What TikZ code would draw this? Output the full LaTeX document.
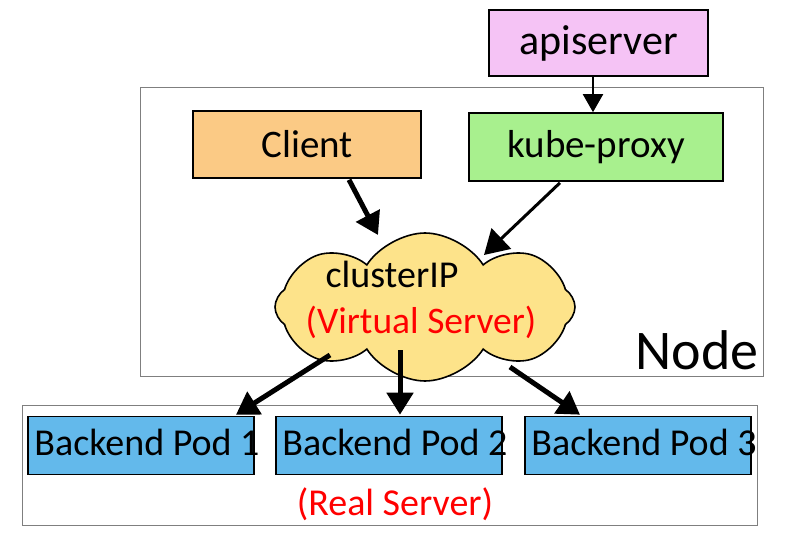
\documentclass[tikz,border=0pt]{standalone}
\usepackage{fontspec}
\setmainfont{Carlito}
\usetikzlibrary{shapes.symbols,arrows.meta,calc}
\definecolor{apipink}{HTML}{F5C3F5}
\definecolor{clientorange}{HTML}{FBCA85}
\definecolor{proxygreen}{HTML}{A8F08E}
\definecolor{cloudyellow}{HTML}{FDE38A}
\definecolor{podblue}{HTML}{63B9EB}
\definecolor{framegray}{HTML}{7F7F7F}
\definecolor{realred}{HTML}{FF0000}
\begin{document}
\begin{tikzpicture}[x=1pt,y=-1pt,
  txt/.style={font=\fontsize{39}{44}\selectfont},
  box/.style={draw=black,line width=1.6pt,inner sep=0pt,txt},
  frame/.style={draw=framegray,line width=1pt,inner sep=0pt},
  pod/.style={box,fill=podblue,minimum width=226pt,minimum height=58pt},
  podtext/.style={anchor=west,inner sep=0pt,font=\fontsize{38}{44}\selectfont},
  thickarrow/.style={line width=5pt,-{Triangle[length=22pt,width=26pt]}},
  midarrow/.style={line width=3pt,-{Triangle[length=24pt,width=28pt]}},
  thinarrow/.style={line width=2pt,-{Triangle[length=18pt,width=20pt]}},
]
\useasboundingbox (0,0) rectangle (790,548);
% frames
\node[frame,minimum width=623pt,minimum height=288pt] (nodeframe) at (451.5,232) {};
\node[frame,minimum width=735pt,minimum height=120pt] (podframe) at (389.5,465) {};
\node[inner sep=0pt,font=\fontsize{56}{60}\selectfont] (nodelabel) at (697,350) {Node};
% top boxes
\node[box,fill=apipink,minimum width=219pt,minimum height=66pt,font=\fontsize{42}{46}\selectfont] (api) at (598.5,43) {apiserver};
\node[box,fill=clientorange,minimum width=228pt,minimum height=67pt] (client) at (307,144.5) {Client};
\node[box,fill=proxygreen,minimum width=254pt,minimum height=68pt] (proxy) at (596,147) {kube-proxy};
% cloud
\node[cloud,draw=black,line width=1.6pt,fill=cloudyellow,cloud puffs=8,cloud puff arc=115,
      minimum width=300pt,minimum height=148pt,aspect=2.1] (cloud) at (425,307) {};
\node[inner sep=0pt,txt,font=\fontsize{38}{44}\selectfont] (cip) at (392,274) {clusterIP};
\node[inner sep=0pt,text=realred,font=\fontsize{37.5}{44}\selectfont] (vs) at (421,322) {(Virtual Server)};
% pods
\node[pod] (p1) at (141,445.5) {};
\node[pod] (p2) at (389,445.5) {};
\node[pod] (p3) at (638,445.5) {};
\node[podtext] (t1) at ($(p1.west)+(7,-3)$) {Backend Pod 1};
\node[podtext] (t2) at ($(p2.west)+(7,-3)$) {Backend Pod 2};
\node[podtext] (t3) at ($(p3.west)+(7,-3)$) {Backend Pod 3};
\node[inner sep=0pt,text=realred,font=\fontsize{38}{44}\selectfont] (real) at (395,504) {(Real Server)};
% arrows
\draw[thinarrow] (api.south -| 593,0) -- (proxy.north -| 593,0);
\draw[thickarrow] ($(client.south)+(42,1)$) -- ($(cloud.center)+(-47,-72)$);
\draw[midarrow] ($(proxy.south)+(-36,1)$) -- ($(cloud.center)+(59,-52)$);
\draw[thickarrow] ($(cloud.center)+(-95,48)$) -- ($(p1.north)+(95,-1)$);
\draw[thickarrow] ($(cloud.center)+(-25,43)$) -- ($(p2.north)+(11,-1)$);
\draw[thickarrow] ($(cloud.center)+(85,60)$) -- ($(p3.north)+(-58,-1)$);
\end{tikzpicture}
\end{document}
